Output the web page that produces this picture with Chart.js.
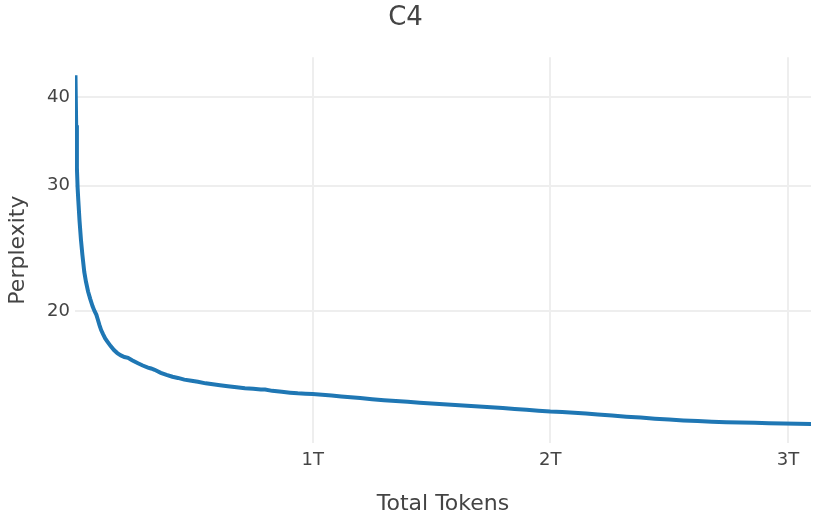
<!DOCTYPE html>
<html>
<head>
<meta charset="utf-8">
<script src="https://cdn.jsdelivr.net/npm/chart.js@4"></script>
<style>
  html, body { margin: 0; padding: 0; background: #fff; }
  #wrap { width: 830px; height: 520px; }
</style>
</head>
<body>
<div id="wrap"><canvas id="c4Chart" width="830" height="520"></canvas></div>
<script>
// tokens seen, in trillions
const tokens = [
  0.002, 0.005, 0.008, 0.011, 0.014, 0.019, 0.025, 0.031, 0.039, 0.046,
  0.055, 0.064, 0.074, 0.082, 0.090, 0.095, 0.103, 0.110, 0.118, 0.127,
  0.137, 0.150, 0.164, 0.178, 0.193, 0.208, 0.223, 0.240, 0.265, 0.285,
  0.307, 0.320, 0.335, 0.361, 0.385, 0.410, 0.433, 0.460, 0.490, 0.517,
  0.550, 0.580, 0.610, 0.643, 0.680, 0.715, 0.750, 0.782, 0.800, 0.830,
  0.870, 0.905, 0.937, 0.970, 1.000, 1.040, 1.080, 1.120, 1.160, 1.200,
  1.250, 1.300, 1.350, 1.400, 1.450, 1.500, 1.550, 1.600, 1.650, 1.700,
  1.750, 1.800, 1.850, 1.900, 1.950, 2.000, 2.050, 2.100, 2.150, 2.200,
  2.260, 2.320, 2.380, 2.440, 2.500, 2.560, 2.620, 2.680, 2.740, 2.800,
  2.860, 2.920, 2.980, 3.040, 3.100
];
const perplexity = [
  42.9, 36.5, 31.8, 29.8, 28.6, 26.8, 25.2, 24.0, 22.7, 22.0,
  21.3, 20.8, 20.3, 20.0, 19.75, 19.5, 19.1, 18.8, 18.55, 18.3,
  18.1, 17.85, 17.62, 17.45, 17.32, 17.23, 17.18, 17.05, 16.88, 16.76,
  16.65, 16.6, 16.53, 16.37, 16.26, 16.16, 16.1, 16.01, 15.95, 15.9,
  15.82, 15.77, 15.72, 15.67, 15.62, 15.57, 15.55, 15.51, 15.51, 15.44,
  15.39, 15.35, 15.32, 15.3, 15.28, 15.25, 15.21, 15.16, 15.12, 15.09,
  15.03, 14.98, 14.94, 14.9, 14.86, 14.82, 14.78, 14.75, 14.71, 14.68,
  14.64, 14.6, 14.56, 14.52, 14.48, 14.44, 14.42, 14.38, 14.35, 14.3,
  14.25, 14.2, 14.16, 14.11, 14.07, 14.03, 14.0, 13.97, 13.95, 13.93,
  13.92, 13.9, 13.89, 13.88, 13.87
];
const xTicks = [1, 2, 3];
const yTicks = [20, 30, 40];

const font = "'DejaVu Sans', Verdana, sans-serif";
const textColor = "#444444";
const gridColor = "#eeeeee";

const points = tokens.map((t, i) => ({ x: t, y: perplexity[i] }));

new Chart(document.getElementById("c4Chart"), {
  type: "line",
  data: {
    datasets: [{
      data: points,
      borderColor: "#1f77b4",
      borderWidth: 4,
      pointRadius: 0,
      tension: 0,
      fill: false
    }]
  },
  options: {
    responsive: false,
    animation: false,
    layout: { padding: { left: 0, right: 19, top: 0, bottom: 0 } },
    plugins: {
      legend: { display: false },
      tooltip: { enabled: false },
      title: {
        display: true,
        text: "C4",
        color: textColor,
        font: { family: font, size: 26, weight: "normal" },
        padding: { top: 3, bottom: 23 }
      }
    },
    scales: {
      x: {
        type: "linear",
        min: 0,
        max: 3.097,
        afterBuildTicks: (s) => { s.ticks = xTicks.map((v) => ({ value: v })); },
        afterFit: (s) => { s.height = 77; },
        border: { display: false },
        grid: { color: gridColor, lineWidth: 2, drawTicks: false },
        ticks: {
          color: textColor,
          font: { family: font, size: 18 },
          padding: 7,
          maxRotation: 0,
          callback: (v) => v + "T"
        },
        title: {
          display: true,
          text: "Total Tokens",
          color: textColor,
          font: { family: font, size: 22 },
          padding: { top: 3, bottom: 3 }
        }
      },
      y: {
        type: "logarithmic",
        min: 13.04,
        max: 45.5,
        afterBuildTicks: (s) => { s.ticks = yTicks.map((v) => ({ value: v })); },
        afterFit: (s) => { s.width = 75; },
        border: { display: false },
        grid: { color: gridColor, lineWidth: 2, drawTicks: false },
        ticks: {
          color: textColor,
          font: { family: font, size: 18 },
          padding: 5,
          callback: (v) => String(v)
        },
        title: {
          display: true,
          text: "Perplexity",
          color: textColor,
          font: { family: font, size: 22 },
          padding: { top: 5, bottom: 3 }
        }
      }
    }
  }
});
</script>
</body>
</html>
